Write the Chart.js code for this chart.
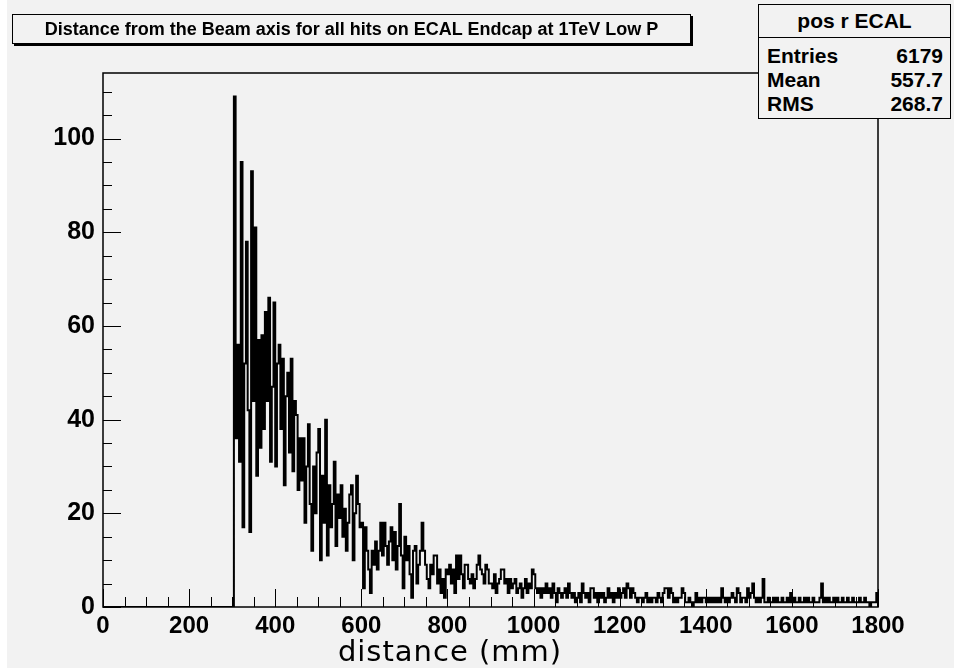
<!DOCTYPE html>
<html>
<head>
<meta charset="utf-8">
<script src="https://cdn.jsdelivr.net/npm/chart.js@4/dist/chart.umd.min.js"></script>
<style>
  html, body { margin: 0; padding: 0; background: #fff; }
  #wrap { position: relative; width: 954px; height: 672px; overflow: hidden; }
  #bg { position: absolute; left: 7px; top: 0; width: 947px; height: 668px; background: #f2f2f2; }
  #c { position: absolute; left: 0; top: 0; }
  .box { position: absolute; background: #f2f2f2; border: 1px solid #000; color: #000;
         font-family: "Liberation Sans", Arial, sans-serif; font-weight: bold; }
  #title { left: 12px; top: 14px; width: 677px; height: 28px; line-height: 28px; text-align: center;
           font-size: 18px; box-shadow: 2px 2px 0 #000; }
  #stats { left: 758px; top: 4px; width: 191px; height: 113px; font-size: 21px; }
  #stats .head { position: absolute; left: 0; top: 0; width: 100%; height: 32px; line-height: 32px;
                 text-align: center; border-bottom: 1px solid #000; }
  #stats .row { position: absolute; left: 8px; right: 7px; height: 24px; line-height: 24px; }
  #stats .row span { position: absolute; right: 0; }
  #xtitle { position: absolute; left: 250px; top: 634px; width: 400px; text-align: center;
            font-family: "DejaVu Sans", sans-serif; font-size: 29px; letter-spacing: 1px; color: #000; }
</style>
</head>
<body>
<div id="wrap">
  <div id="bg"></div>
  <canvas id="c" width="954" height="672"></canvas>
  <div id="title" class="box">Distance from the Beam axis for all hits on ECAL Endcap at 1TeV Low P</div>
  <div id="stats" class="box">
    <div class="head">pos r ECAL</div>
    <div class="row" style="top:39px">Entries<span>6179</span></div>
    <div class="row" style="top:63px">Mean<span>557.7</span></div>
    <div class="row" style="top:87px">RMS<span>268.7</span></div>
  </div>
  <div id="xtitle">distance (mm)</div>
</div>
<script>
// histogram: 4 mm bins starting at 300 mm
var binWidth = 4;
var firstEdge = 300;
var xMax = 1800, yMax = 114;
var xMajor = 200, xMinor = 50, yMajor = 20, yMinor = 5;

var counts300to500 = [
  0,109,36,56,31,95,17,52,78,42,16,93,44,81,28,57,34,58,38,63,44,66,31,47,65,
  30,52,56,38,53,26,45,50,33,53,29,44,41,25,36,27,36,18,30,39,22,12,30,20,33
];
var counts500to700 = [
  38,10,28,18,40,11,26,17,22,31,13,24,19,26,15,21,12,18,24,26,10,20,28,22,17,
  18,4,17,12,8,3,12,9,14,8,12,18,11,18,13,9,14,17,10,16,8,13,22,11,4
];
var counts700to1000 = [
  15,10,13,7,2,12,13,5,9,12,18,12,9,6,4,9,7,11,11,5,8,3,6,2,8,
  7,9,5,8,3,11,6,11,7,4,9,9,6,5,7,4,6,9,11,8,7,5,9,8,5,
  5,4,7,3,5,6,8,8,5,6,3,6,4,5,6,3,4,5,2,4,6,3,5,4,8
];
var counts1000to1400 = [
  7,4,3,4,2,4,3,5,3,4,2,5,3,1,4,3,2,3,4,2,5,3,2,3,1,
  2,3,1,5,3,2,3,1,4,4,2,3,1,3,2,3,1,2,4,2,3,1,3,2,4,
  2,3,4,2,5,4,2,4,3,2,1,2,2,1,2,3,1,2,1,2,2,1,3,2,1,
  3,4,4,2,4,3,1,2,1,2,2,4,3,1,1,2,1,0,1,3,1,2,1,2,2
];
var counts1400to1800 = [
  1,2,1,2,1,2,1,2,1,4,2,1,2,1,2,3,2,1,4,3,1,2,2,1,4,
  2,3,5,2,1,2,1,2,6,1,1,2,1,1,2,1,2,1,1,2,1,1,2,1,3,
  1,2,1,1,2,1,1,2,1,2,1,1,2,1,1,1,2,5,1,2,1,2,1,1,2,
  1,2,1,1,2,1,1,2,1,1,2,1,1,1,2,1,1,2,1,1,0,1,1,1,3
];

var counts = counts300to500.concat(counts500to700, counts700to1000, counts1000to1400, counts1400to1800);
var points = [{x: 0, y: 0}];
counts.forEach(function(c, i) {
  points.push({x: firstEdge + i * binWidth, y: c});
});
points.push({x: xMax, y: 0});

Chart.defaults.font.family = "'Liberation Sans', Arial, sans-serif";
Chart.defaults.color = '#000';

// ROOT style frame with ticks pointing inwards
var frameTicks = {
  id: 'frameTicks',
  afterDatasetsDraw: function(chart) {
    var ctx = chart.ctx, a = chart.chartArea, x = chart.scales.x, y = chart.scales.y;
    ctx.save();
    ctx.strokeStyle = '#000';
    ctx.lineWidth = 1;
    ctx.beginPath();
    for (var v = 0; v <= xMax; v += xMinor) {
      var px = Math.round(x.getPixelForValue(v)) + 0.5;
      var len = (v % xMajor === 0) ? 18 : 10;
      ctx.moveTo(px, a.bottom);
      ctx.lineTo(px, a.bottom - len);
    }
    for (var w = 0; w <= yMax; w += yMinor) {
      var py = Math.round(y.getPixelForValue(w)) + 0.5;
      var l2 = (w % yMajor === 0) ? 18 : 9;
      ctx.moveTo(a.left, py);
      ctx.lineTo(a.left + l2, py);
    }
    ctx.stroke();
    ctx.lineWidth = 1.5;
    ctx.strokeRect(a.left, a.top, a.right - a.left, a.bottom - a.top);
    ctx.restore();
  }
};

var ctx = document.getElementById('c').getContext('2d');
var chart = new Chart(ctx, {
  type: 'line',
  data: {
    datasets: [{
      data: points,
      stepped: true,
      borderColor: '#000',
      borderWidth: 2,
      pointRadius: 0,
      fill: false
    }]
  },
  options: {
    responsive: false,
    devicePixelRatio: 1,
    animation: false,
    parsing: false,
    layout: { padding: { top: 73, right: 76, left: 0, bottom: 0 } },
    plugins: { legend: { display: false }, tooltip: { enabled: false } },
    scales: {
      x: {
        type: 'linear', min: 0, max: xMax,
        grid: { display: false, drawTicks: false, tickLength: 0 }, border: { display: false },
        ticks: { stepSize: xMajor, padding: 5, maxRotation: 0, autoSkip: false,
                 font: { size: 24, weight: 'bold' },
                 callback: function(v) { return String(v); } },
        afterFit: function(s) { s.height = 65; }
      },
      y: {
        min: 0, max: yMax,
        grid: { display: false, drawTicks: false, tickLength: 0 }, border: { display: false },
        ticks: { stepSize: yMajor, includeBounds: false, padding: 8,
                 font: { size: 25, weight: 'bold' },
                 callback: function(v) { return String(v); } },
        afterFit: function(s) { s.width = 103; }
      }
    }
  },
  plugins: [frameTicks]
});
</script>
</body>
</html>
